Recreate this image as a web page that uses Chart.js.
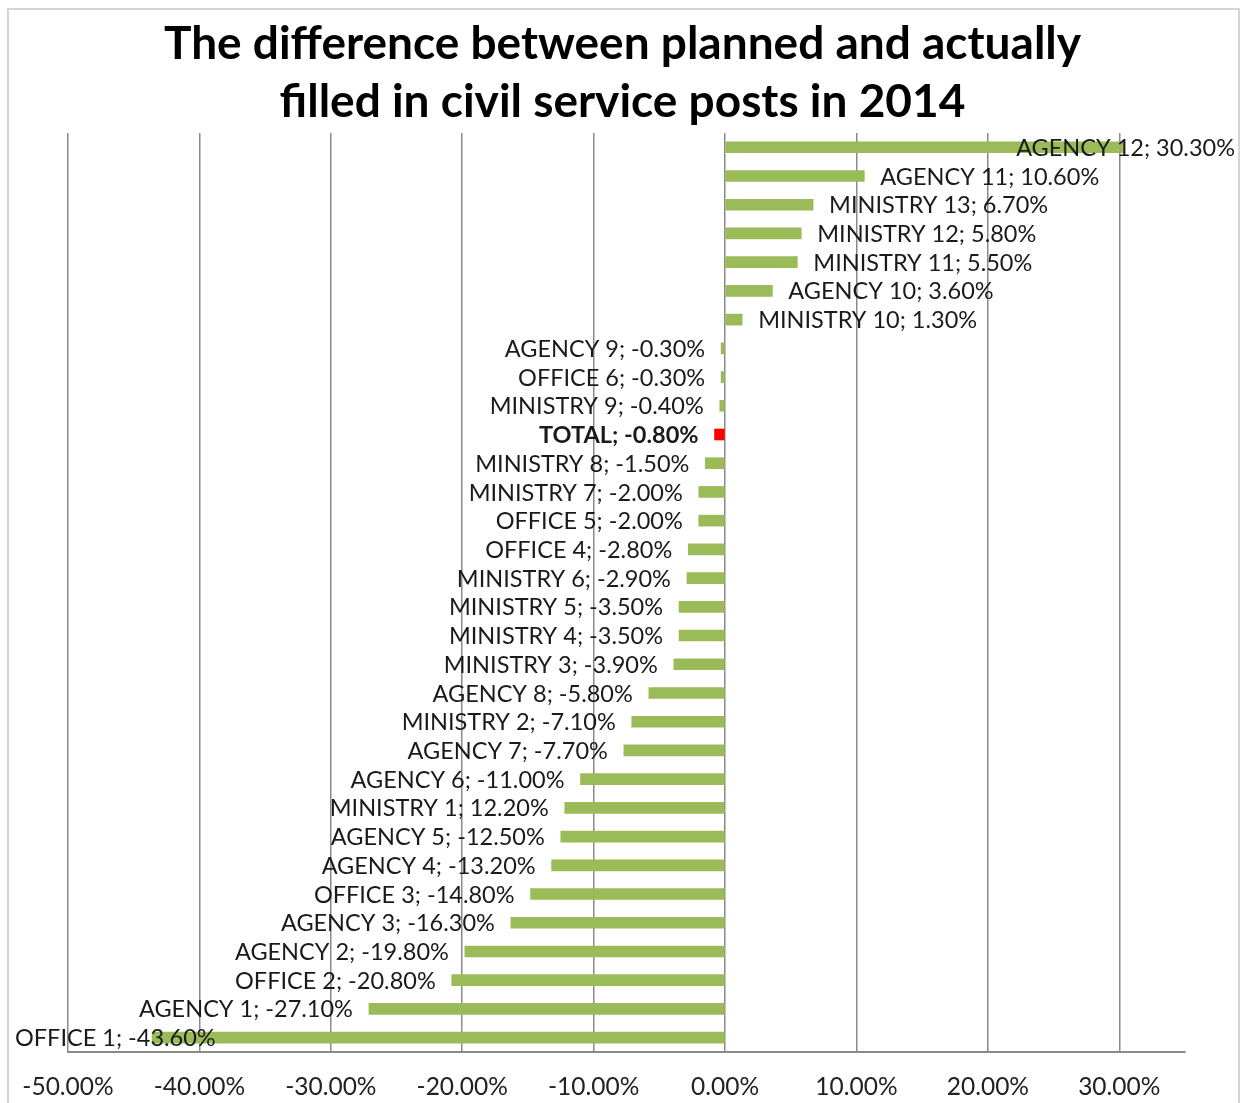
<!DOCTYPE html>
<html>
<head>
<meta charset="utf-8">
<script src="https://cdn.jsdelivr.net/npm/chart.js@4"></script>
<style>
  html, body { margin: 0; padding: 0; background: #fff; }
  #wrap { width: 1242px; height: 1103px; }
</style>
</head>
<body>
<div id="wrap"><canvas id="bar_chart" width="1242" height="1103"></canvas></div>
<script>
// categories, top to bottom
const categories = [
  'AGENCY 12', 'AGENCY 11', 'MINISTRY 13', 'MINISTRY 12', 'MINISTRY 11', 'AGENCY 10',
  'MINISTRY 10', 'AGENCY 9', 'OFFICE 6', 'MINISTRY 9', 'TOTAL', 'MINISTRY 8',
  'MINISTRY 7', 'OFFICE 5', 'OFFICE 4', 'MINISTRY 6', 'MINISTRY 5', 'MINISTRY 4',
  'MINISTRY 3', 'AGENCY 8', 'MINISTRY 2', 'AGENCY 7', 'AGENCY 6', 'MINISTRY 1',
  'AGENCY 5', 'AGENCY 4', 'OFFICE 3', 'AGENCY 3', 'AGENCY 2', 'OFFICE 2',
  'AGENCY 1', 'OFFICE 1'
]
// difference in %
const values = [
  30.3, 10.6, 6.7, 5.8, 5.5, 3.6,
  1.3, -0.3, -0.3, -0.4, -0.8, -1.5,
  -2.0, -2.0, -2.8, -2.9, -3.5, -3.5,
  -3.9, -5.8, -7.1, -7.7, -11.0, -12.2,
  -12.5, -13.2, -14.8, -16.3, -19.8, -20.8,
  -27.1, -43.6
]
// value as written in the label (MINISTRY 1 lost its minus sign in the original)
const shownValues = [
  30.3, 10.6, 6.7, 5.8, 5.5, 3.6,
  1.3, -0.3, -0.3, -0.4, -0.8, -1.5,
  -2.0, -2.0, -2.8, -2.9, -3.5, -3.5,
  -3.9, -5.8, -7.1, -7.7, -11.0, 12.2,
  -12.5, -13.2, -14.8, -16.3, -19.8, -20.8,
  -27.1, -43.6
]
const tickValues = [-50, -40, -30, -20, -10, 0, 10, 20, 30]

const green = '#9BBB59'
const red = '#FF0000'
const gridGrey = '#8A8A8A'
const fontFamily = 'Lato, "Open Sans", sans-serif'

const barColors = categories.map(c => c === 'TOTAL' ? red : green)

/**
 * Light frame around the chart
 */
const framePlugin = {
  id: 'frame',
  beforeDraw(chart) {
    const ctx = chart.ctx
    ctx.save()
    ctx.fillStyle = '#fff'
    ctx.fillRect(0, 0, chart.width, chart.height)
    ctx.strokeStyle = '#d4d4d4'
    ctx.lineWidth = 2
    ctx.strokeRect(8, 9, chart.width - 11, chart.height + 10)
    ctx.restore()
  }
}

/**
 * "NAME; value%" labels outside the bar ends, kept inside the frame
 */
const labelPlugin = {
  id: 'barLabels',
  afterDatasetsDraw(chart) {
    const ctx = chart.ctx
    const meta = chart.getDatasetMeta(0)
    ctx.save()
    ctx.textBaseline = 'middle'
    ctx.fillStyle = '#1a1a1a'
    meta.data.forEach((bar, i) => {
      const bold = categories[i] === 'TOTAL'
      ctx.font = (bold ? 'bold ' : '') + '23.5px ' + fontFamily
      const text = categories[i] + '; ' + shownValues[i].toFixed(2) + '%'
      const w = ctx.measureText(text).width
      let x
      if (values[i] >= 0) {
        x = bar.x + 16
        if (x + w > chart.width - 7) x = chart.width - 7 - w
      } else {
        x = bar.x - 16 - w
        if (x < 15) x = 15
      }
      ctx.textAlign = 'left'
      ctx.fillText(text, x, bar.y + 1)
    })
    ctx.restore()
  }
}

const barChart = new Chart(document.getElementById('bar_chart').getContext('2d'), {
  type: 'bar',
  data: {
    labels: categories,
    datasets: [{
      data: values,
      backgroundColor: barColors,
      borderWidth: 0,
      barThickness: 11
    }]
  },
  options: {
    indexAxis: 'y',
    responsive: false,
    animation: false,
    layout: {
      padding: { left: 60, right: 57, top: 0, bottom: 0 }
    },
    plugins: {
      legend: { display: false },
      tooltip: { enabled: false },
      title: {
        display: true,
        text: ['The difference between planned and actually', 'filled in civil service posts in 2014'],
        color: '#000',
        font: { family: fontFamily, size: 46, weight: 'bold', lineHeight: 1.26 },
        padding: { top: 15, bottom: 2 }
      }
    },
    scales: {
      x: {
        min: -50,
        max: 35,
        afterBuildTicks(scale) {
          scale.ticks = tickValues.map(v => ({ value: v }))
        },
        afterFit(scale) {
          scale.height = 51
        },
        grid: {
          color: gridGrey,
          lineWidth: 1.5,
          drawTicks: false
        },
        border: { display: true, color: gridGrey, width: 2 },
        ticks: {
          padding: 20,
          color: '#222',
          font: { family: fontFamily, size: 24.5 },
          callback: v => v.toFixed(2) + '%'
        }
      },
      y: {
        grid: { display: false },
        border: { display: false },
        ticks: { display: false }
      }
    }
  },
  plugins: [framePlugin, labelPlugin]
})
</script>
</body>
</html>
